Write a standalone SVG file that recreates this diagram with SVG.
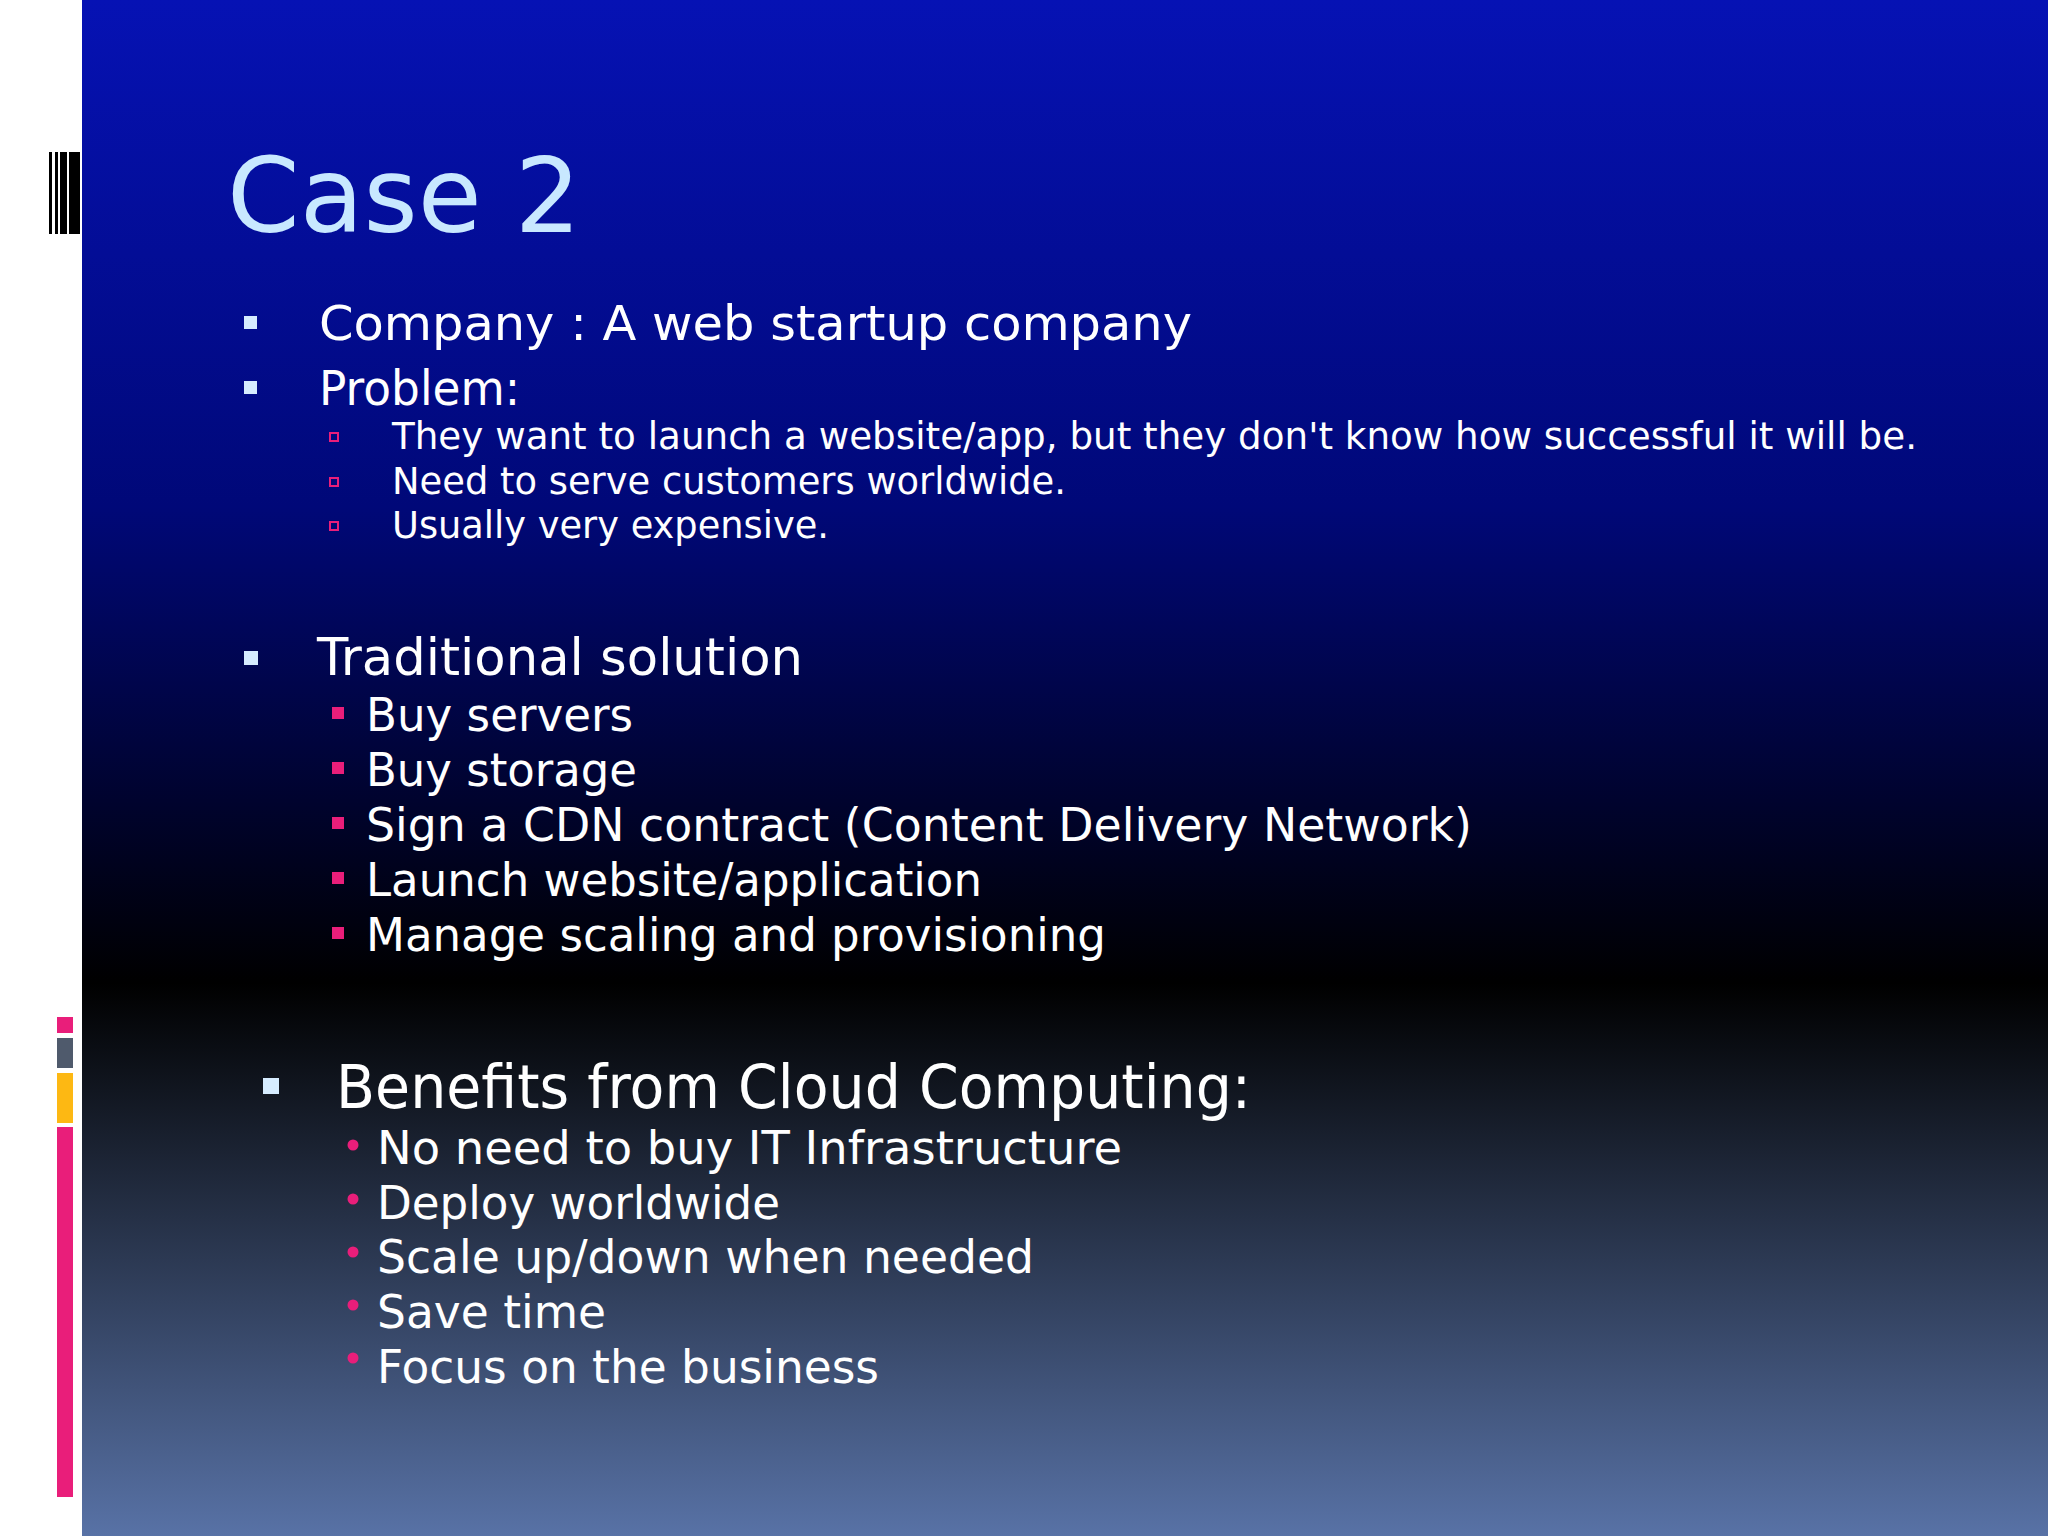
<svg xmlns="http://www.w3.org/2000/svg" width="2048" height="1536" viewBox="0 0 2048 1536">
<defs>
<linearGradient id="bg" x1="0" y1="0" x2="0" y2="1">
<stop offset="0" stop-color="#0612b4"/>
<stop offset="0.33" stop-color="#000878"/>
<stop offset="0.64" stop-color="#000000"/>
<stop offset="1" stop-color="#5872a6"/>
</linearGradient>
</defs>
<style>
text{font-family:"DejaVu Sans",Verdana,sans-serif;fill:#ffffff}
.t{fill:#c8e8ff;font-size:104px}
.l1{font-size:48px}
.l2{font-size:37px}
.l3{font-size:46px}
.sq{fill:#d6ecff}
.pk{fill:#e91e7a}
.hs{fill:none;stroke:#e91e7a;stroke-width:2}
</style>
<rect width="2048" height="1536" fill="#ffffff"/>
<rect x="82" y="0" width="1966" height="1536" fill="url(#bg)"/>
<g id="deco">
<rect x="49" y="152" width="3" height="82" fill="#000"/>
<rect x="55" y="152" width="3" height="82" fill="#000"/>
<rect x="60" y="152" width="7" height="82" fill="#000"/>
<rect x="69" y="152" width="11" height="82" fill="#000"/>
<rect x="57" y="1017" width="16" height="16" fill="#e91e7a"/>
<rect x="57" y="1038" width="16" height="30" fill="#4f5a6c"/>
<rect x="57" y="1073" width="16" height="50" fill="#fdb813"/>
<rect x="57" y="1127" width="16" height="370" fill="#e91e7a"/>
</g>
<g id="title"><text class="t" x="227" y="232" textLength="354" lengthAdjust="spacing">Case  2</text></g>
<g id="company">
<rect class="sq" x="244" y="316" width="13" height="13"/>
<text class="l1" x="319" y="340" textLength="873" lengthAdjust="spacingAndGlyphs">Company : A web startup company</text>
</g>
<g id="problem">
<rect class="sq" x="244" y="381" width="13" height="13"/>
<text class="l1" x="319" y="405" textLength="201" lengthAdjust="spacingAndGlyphs">Problem:</text>
<rect class="hs" x="330" y="433" width="8" height="8"/>
<text class="l2" x="392" y="449" textLength="1525" lengthAdjust="spacingAndGlyphs">They want to launch a website/app, but they don't know how successful it will be.</text>
<rect class="hs" x="330" y="478" width="8" height="8"/>
<text class="l2" x="392" y="494" textLength="674" lengthAdjust="spacingAndGlyphs">Need to serve customers worldwide.</text>
<rect class="hs" x="330" y="522" width="8" height="8"/>
<text class="l2" x="392" y="538" textLength="437" lengthAdjust="spacingAndGlyphs">Usually very expensive.</text>
</g>
<g id="traditional">
<rect class="sq" x="244" y="651" width="14" height="14"/>
<text class="l3" x="317" y="675" font-size="52" style="font-size:52px" textLength="486" lengthAdjust="spacingAndGlyphs">Traditional solution</text>
<rect class="pk" x="332" y="707" width="12" height="12"/>
<text class="l3" x="366" y="731" textLength="267" lengthAdjust="spacingAndGlyphs">Buy servers</text>
<rect class="pk" x="332" y="762" width="12" height="12"/>
<text class="l3" x="366" y="786" textLength="271" lengthAdjust="spacingAndGlyphs">Buy storage</text>
<rect class="pk" x="332" y="817" width="12" height="12"/>
<text class="l3" x="366" y="841" textLength="1106" lengthAdjust="spacingAndGlyphs">Sign a CDN contract (Content Delivery Network)</text>
<rect class="pk" x="332" y="872" width="12" height="12"/>
<text class="l3" x="366" y="896" textLength="616" lengthAdjust="spacingAndGlyphs">Launch website/application</text>
<rect class="pk" x="332" y="927" width="12" height="12"/>
<text class="l3" x="366" y="951" textLength="740" lengthAdjust="spacingAndGlyphs">Manage scaling and provisioning</text>
</g>
<g id="benefits">
<rect class="sq" x="263" y="1078" width="16" height="16"/>
<text x="336" y="1108" style="font-size:60px" textLength="915" lengthAdjust="spacingAndGlyphs">Benefits from Cloud Computing:</text>
<circle class="pk" cx="353" cy="1145" r="5.5"/>
<text class="l3" x="377" y="1164" textLength="745" lengthAdjust="spacingAndGlyphs">No need to buy IT Infrastructure</text>
<circle class="pk" cx="353" cy="1199" r="5.5"/>
<text class="l3" x="377" y="1219" textLength="403" lengthAdjust="spacingAndGlyphs">Deploy worldwide</text>
<circle class="pk" cx="353" cy="1252" r="5.5"/>
<text class="l3" x="377" y="1273" textLength="657" lengthAdjust="spacingAndGlyphs">Scale up/down when needed</text>
<circle class="pk" cx="353" cy="1305" r="5.5"/>
<text class="l3" x="377" y="1328" textLength="229" lengthAdjust="spacingAndGlyphs">Save time</text>
<circle class="pk" cx="353" cy="1358" r="5.5"/>
<text class="l3" x="377" y="1383" textLength="502" lengthAdjust="spacingAndGlyphs">Focus on the business</text>
</g>
</svg>
